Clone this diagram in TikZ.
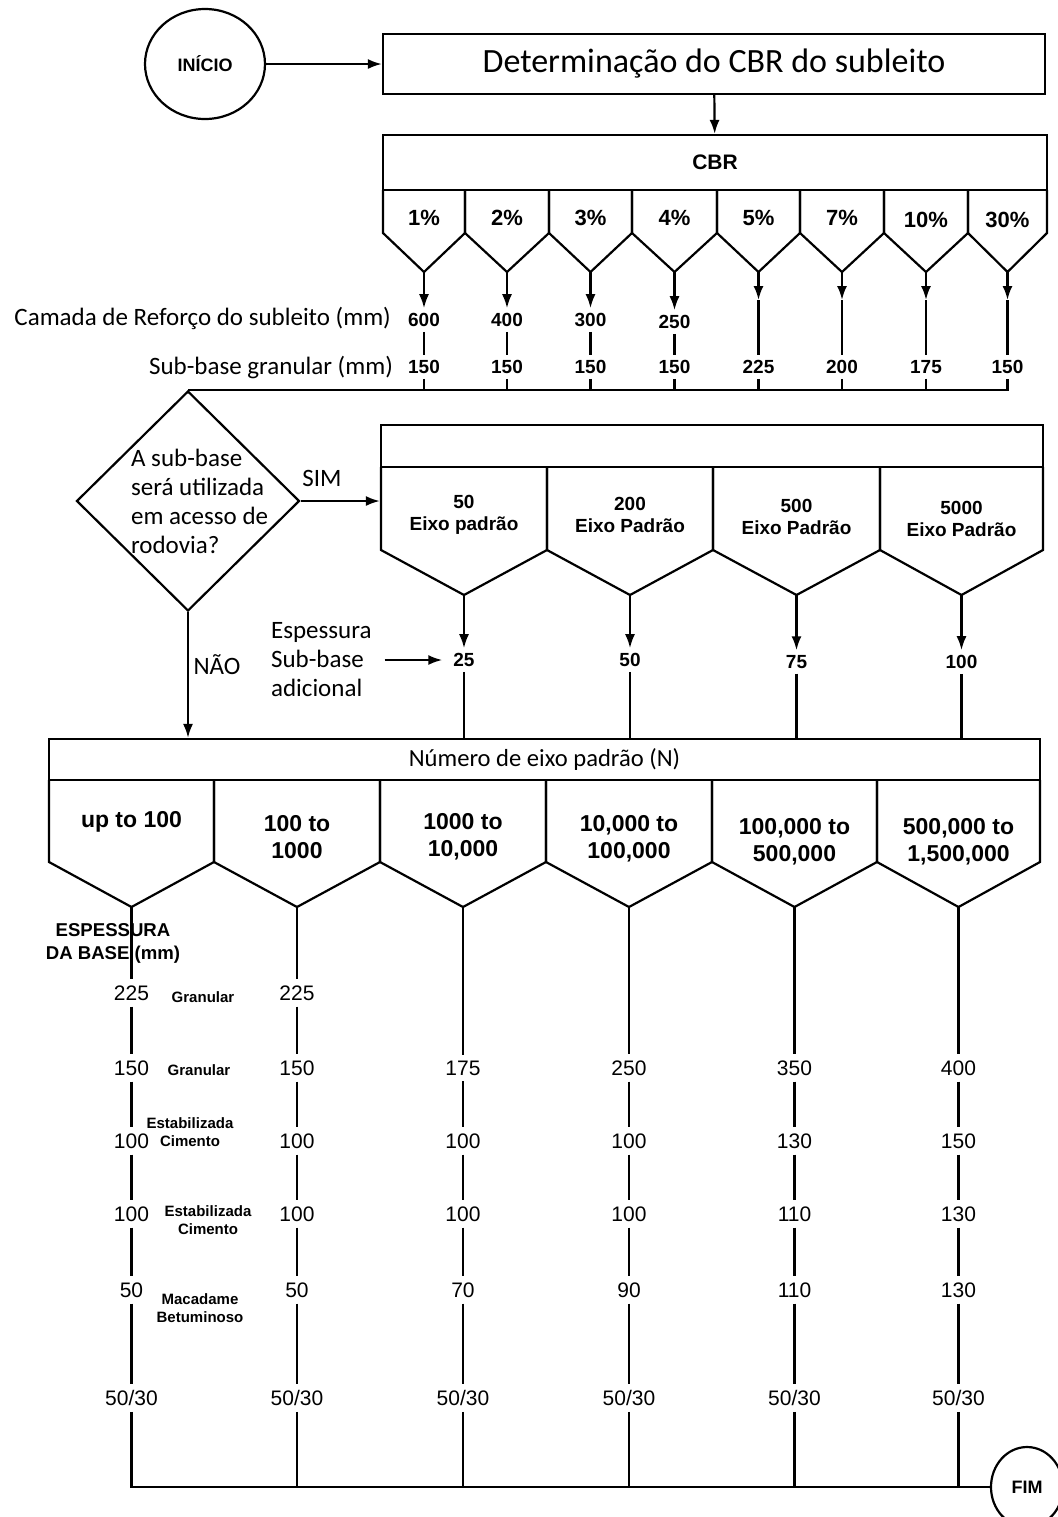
\documentclass[tikz,border=0pt]{standalone}
\usepackage{fontspec}
\setmainfont{Liberation Sans}
\newfontfamily\calib{Carlito}
\usetikzlibrary{arrows.meta,shapes.geometric}

\begin{document}
\begin{tikzpicture}[x=0.5pt,y=-0.5pt,line width=1.1pt,
    arr/.style={-{Latex[length=7pt,width=5pt]}}]
  \useasboundingbox (0,0) rectangle (1057,1517);

  % boxes, terminals, question
  \begin{scope}[every node/.style={draw,inner sep=0pt}]
    \node[ellipse,minimum width=60pt,minimum height=55pt,font=\bfseries\fontsize{9}{11}\selectfont] (inicio) at (205,64) {INÍCIO};
    \node[minimum width=331pt,minimum height=30pt,font=\calib\fontsize{17}{20}\selectfont] (det) at (714,64) {Determinação do CBR do subleito};
    \node[minimum width=332pt,minimum height=27.5pt,font=\bfseries\fontsize{10.5}{12}\selectfont] (cbr) at (715,162.5) {CBR};
    \node[diamond,minimum width=111.5pt,minimum height=110pt] (q) at (188,501) {};
    \node[minimum width=331pt,minimum height=21pt] (hdr) at (712,446) {};
    \node[minimum width=495.5pt,minimum height=20.5pt,font=\calib\fontsize{12.3}{14}\selectfont] (num) at (544.5,759.5) {Número de eixo padrão (N)};
    \node[ellipse,minimum width=36pt,minimum height=40pt,font=\bfseries\fontsize{9}{11}\selectfont] (fim) at (1027,1487) {FIM};
  \end{scope}

  % CBR cells
  \draw (383,190) -- (383,233) -- (424,272) coordinate (c1) -- (465,233) -- (465,190);
  \draw (465,190) -- (465,233) -- (507,272) coordinate (c2) -- (549,233) -- (549,190);
  \draw (549,190) -- (549,233) -- (590.5,272) coordinate (c3) -- (632,233) -- (632,190);
  \draw (632,190) -- (632,233) -- (674.5,272) coordinate (c4) -- (717,233) -- (717,190);
  \draw (717,190) -- (717,233) -- (758.5,272) coordinate (c5) -- (800,233) -- (800,190);
  \draw (800,190) -- (800,233) -- (842,272) coordinate (c6) -- (884,233) -- (884,190);
  \draw (884,190) -- (884,233) -- (926,272) coordinate (c7) -- (968,233) -- (968,190);
  \draw (968,190) -- (968,233) -- (1007.5,272) coordinate (c8) -- (1047,233) -- (1047,190);

  % traffic cells
  \draw (381,467) -- (381,550) -- (464,595) coordinate (e1) -- (547,550) -- (547,467);
  \draw (547,467) -- (547,550) -- (630,595) coordinate (e2) -- (713,550) -- (713,467);
  \draw (713,467) -- (713,550) -- (796.5,595) coordinate (e3) -- (880,550) -- (880,467);
  \draw (880,467) -- (880,550) -- (961.5,595) coordinate (e4) -- (1043,550) -- (1043,467);

  % N cells
  \draw (49,780) -- (49,862) -- (131.5,907) coordinate (n1) -- (214,862) -- (214,780);
  \draw (214,780) -- (214,862) -- (297,907) coordinate (n2) -- (380,862) -- (380,780);
  \draw (380,780) -- (380,862) -- (463,907) coordinate (n3) -- (546,862) -- (546,780);
  \draw (546,780) -- (546,862) -- (629,907) coordinate (n4) -- (712,862) -- (712,780);
  \draw (712,780) -- (712,862) -- (794.5,907) coordinate (n5) -- (877,862) -- (877,780);
  \draw (877,780) -- (877,862) -- (958.5,907) coordinate (n6) -- (1040,862) -- (1040,780);

  \coordinate (h5) at (758.5,300);
  \coordinate (h6) at (842,300);
  \coordinate (h7) at (926,300);
  \coordinate (h8) at (1007.5,300);

  % texts in Carlito
  \begin{scope}[every node/.style={inner sep=0pt,font=\calib\fontsize{12.5}{14.5}\selectfont}]
    \node[anchor=east] (lref) at (392,318) {Camada de Reforço do subleito (mm)};
    \node[anchor=east] (lsub) at (394,367) {Sub-base granular (mm)};
    \node[anchor=west,align=left] (qtxt) at (130,501) {A sub-base\\será utilizada\\em acesso de\\rodovia?};
    \node (sim) at (322,478) {SIM};
    \node (nao) at (217,665) {NÃO};
    \node[anchor=west,align=left] (esp) at (270,660) {Espessura\\Sub-base\\adicional};
  \end{scope}

  % CBR labels
  \begin{scope}[every node/.style={font=\bfseries\fontsize{11}{13}\selectfont}]
    \node (l1) at (424,218) {1\%};
    \node (l2) at (507,218) {2\%};
    \node (l3) at (590.5,218) {3\%};
    \node (l4) at (674.5,218) {4\%};
    \node (l5) at (758.5,218) {5\%};
    \node (l6) at (842,218) {7\%};
    \node (l7) at (926,220) {10\%};
    \node (l8) at (1007.5,220) {30\%};
  \end{scope}

  % reinforcement and sub-base values
  \begin{scope}[every node/.style={inner sep=2pt,font=\bfseries\fontsize{9.5}{11}\selectfont}]
    \node (r1) at (424,320) {600};
    \node (r2) at (507,320) {400};
    \node (r3) at (590.5,320) {300};
    \node (r4) at (674.5,322) {250};
    \node (g1) at (424,367) {150};
    \node (g2) at (507,367) {150};
    \node (g3) at (590.5,367) {150};
    \node (g4) at (674.5,367) {150};
    \node (g5) at (758.5,367) {225};
    \node (g6) at (842,367) {200};
    \node (g7) at (926,367) {175};
    \node (g8) at (1007.5,367) {150};
    \node[align=center] (x1) at (464,515) {50\\Eixo padrão};
    \node[align=center] (x2) at (630,515) {200\\Eixo Padrão};
    \node[align=center] (x3) at (796.5,517) {500\\Eixo Padrão};
    \node[align=center] (x4) at (961.5,519) {5000\\Eixo Padrão};
    \node (a1) at (464,660) {25};
    \node (a2) at (630,660) {50};
    \node (a3) at (796.5,662) {75};
    \node (a4) at (961.5,662) {100};
  \end{scope}

  % N labels
  \begin{scope}[every node/.style={align=center,font=\bfseries\fontsize{11.5}{13.5}\selectfont}]
    \node (m1) at (131.5,822) {up to 100};
    \node (m2) at (297,837) {100 to\\1000};
    \node (m3) at (463,837) {1000 to\\10,000};
    \node (m4) at (629,839) {10,000 to\\100,000};
    \node (m5) at (794.5,842) {100,000 to\\500,000};
    \node (m6) at (958.5,842) {500,000 to\\1,500,000};
  \end{scope}

  \node[align=center,inner sep=0pt,font=\bfseries\fontsize{9.3}{11.5}\selectfont] (esb) at (113,943) {ESPESSURA\\DA BASE (mm)};

  % base thickness values
  \begin{scope}[every node/.style={inner sep=2.5pt,font=\fontsize{10.5}{12}\selectfont}]
    \node (k11) at (131.5,993) {225};
    \node (k21) at (297,993) {225};
    \node (k12) at (131.5,1068) {150};
    \node (k22) at (297,1068) {150};
    \node (k32) at (463,1068) {175};
    \node (k42) at (629,1068) {250};
    \node (k52) at (794.5,1068) {350};
    \node (k62) at (958.5,1068) {400};
    \node (k13) at (131.5,1141) {100};
    \node (k23) at (297,1141) {100};
    \node (k33) at (463,1141) {100};
    \node (k43) at (629,1141) {100};
    \node (k53) at (794.5,1141) {130};
    \node (k63) at (958.5,1141) {150};
    \node (k14) at (131.5,1214) {100};
    \node (k24) at (297,1214) {100};
    \node (k34) at (463,1214) {100};
    \node (k44) at (629,1214) {100};
    \node (k54) at (794.5,1214) {110};
    \node (k64) at (958.5,1214) {130};
    \node (k15) at (131.5,1290) {50};
    \node (k25) at (297,1290) {50};
    \node (k35) at (463,1290) {70};
    \node (k45) at (629,1290) {90};
    \node (k55) at (794.5,1290) {110};
    \node (k65) at (958.5,1290) {130};
    \node (k16) at (131.5,1398) {50/30};
    \node (k26) at (297,1398) {50/30};
    \node (k36) at (463,1398) {50/30};
    \node (k46) at (629,1398) {50/30};
    \node (k56) at (794.5,1398) {50/30};
    \node (k66) at (958.5,1398) {50/30};
  \end{scope}

  % layer names
  \begin{scope}[every node/.style={align=center,inner sep=0pt,font=\bfseries\fontsize{7.5}{9}\selectfont}]
    \node (t1) at (203,997) {Granular};
    \node (t2) at (199,1070) {Granular};
    \node (t3) at (190,1132) {Estabilizada\\Cimento};
    \node (t4) at (208,1220) {Estabilizada\\Cimento};
    \node (t5) at (200,1308) {Macadame\\Betuminoso};
  \end{scope}

  % arrows
  \begin{scope}[every edge/.style={draw=black,arr}]
    \path (inicio) edge (det);
    \path (det) edge (cbr);
    \path (c1) edge (r1);
    \path (c2) edge (r2);
    \path (c3) edge (r3);
    \path (c4) edge (r4);
    \path (c5) edge (h5);
    \path (c6) edge (h6);
    \path (c7) edge (h7);
    \path (c8) edge (h8);
    \path (q.east) edge (q.east -| hdr.west);
    \path (e1) edge (a1);
    \path (e2) edge (a2);
    \path (e3) edge (a3);
    \path (e4) edge (a4);
    \path (esp.east) edge[shorten <=6pt,shorten >=3pt] (a1);
    \path (q.south) edge (q.south |- num.north);
  \end{scope}

  % lines
  \begin{scope}[every edge/.style={draw=black}]
    \path (r1) edge (g1);
    \path (r2) edge (g2);
    \path (r3) edge (g3);
    \path (r4) edge (g4);
    \path (h5) edge (g5);
    \path (h6) edge (g6);
    \path (h7) edge (g7);
    \path (h8) edge (g8);
    \path (g1.south) edge (g1.south |- q.north);
    \path (g2.south) edge (g2.south |- q.north);
    \path (g3.south) edge (g3.south |- q.north);
    \path (g4.south) edge (g4.south |- q.north);
    \path (g5.south) edge (g5.south |- q.north);
    \path (g6.south) edge (g6.south |- q.north);
    \path (g7.south) edge (g7.south |- q.north);
    \path (a1.south) edge (a1.south |- num.north);
    \path (a2.south) edge (a2.south |- num.north);
    \path (a3.south) edge (a3.south |- num.north);
    \path (a4.south) edge (a4.south |- num.north);
    \path (n1) edge (k11);
    \path (k11) edge (k12);
    \path (k12) edge (k13);
    \path (k13) edge (k14);
    \path (k14) edge (k15);
    \path (k15) edge (k16);
    \path (n2) edge (k21);
    \path (k21) edge (k22);
    \path (k22) edge (k23);
    \path (k23) edge (k24);
    \path (k24) edge (k25);
    \path (k25) edge (k26);
    \path (n3) edge (k32);
    \path (k32) edge (k33);
    \path (k33) edge (k34);
    \path (k34) edge (k35);
    \path (k35) edge (k36);
    \path (n4) edge (k42);
    \path (k42) edge (k43);
    \path (k43) edge (k44);
    \path (k44) edge (k45);
    \path (k45) edge (k46);
    \path (n5) edge (k52);
    \path (k52) edge (k53);
    \path (k53) edge (k54);
    \path (k54) edge (k55);
    \path (k55) edge (k56);
    \path (n6) edge (k62);
    \path (k62) edge (k63);
    \path (k63) edge (k64);
    \path (k64) edge (k65);
    \path (k65) edge (k66);
    \path (k26.south) edge (k26.south |- fim.west);
    \path (k36.south) edge (k36.south |- fim.west);
    \path (k46.south) edge (k46.south |- fim.west);
    \path (k56.south) edge (k56.south |- fim.west);
    \path (k66.south) edge (k66.south |- fim.west);
  \end{scope}
  \draw (g8.south) |- (q.north);
  \draw (k16.south) |- (fim.west);
\end{tikzpicture}
\end{document}
